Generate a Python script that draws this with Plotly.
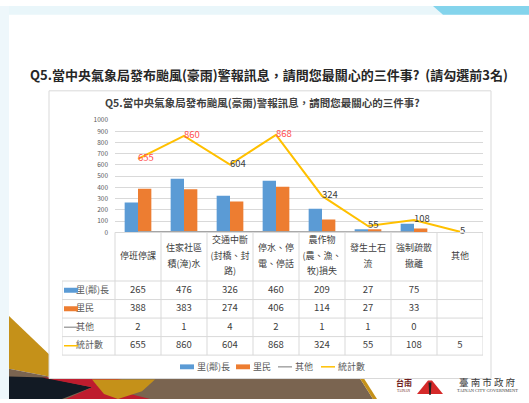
import plotly.graph_objects as go

W, H = 529, 403
FONT = "Noto Sans CJK TC"

# ---------------- data ----------------
categories = ["停班停課", "住家社區積(淹)水", "交通中斷(封橋、封路)", "停水、停電、停話",
              "農作物(農、漁、牧)損失", "發生土石流", "強制疏散撤離", "其他"]
header_lines = [["停班停課"], ["住家社區", "積(淹)水"], ["交通中斷", "(封橋、封", "路)"],
                ["停水、停", "電、停話"], ["農作物", "(農、漁、", "牧)損失"],
                ["發生土石", "流"], ["強制疏散", "撤離"], ["其他"]]
series_names = ["里(鄰)長", "里民", "其他", "統計數"]
leader_values = [265, 476, 326, 460, 209, 27, 75, None]
resident_values = [388, 383, 274, 406, 114, 27, 33, None]
other_values = [2, 1, 4, 2, 1, 1, 0, None]
total_values = [655, 860, 604, 868, 324, 55, 108, 5]
y_ticks = [0, 100, 200, 300, 400, 500, 600, 700, 800, 900, 1000]

main_title = "Q5.當中央氣象局發布颱風(豪雨)警報訊息，請問您最關心的三件事?\u00a0\u00a0(請勾選前3名)"
chart_title = "Q5.當中央氣象局發布颱風(豪雨)警報訊息，請問您最關心的三件事?"

# ---------------- styles ----------------
BLUE, ORANGE, GRAY, GOLD = "#5B9BD5", "#ED7D31", "#A5A5A5", "#FFC000"
series_colors = [BLUE, ORANGE, GRAY, GOLD]
series_kind = ["bar", "bar", "line", "line"]
TXT = "#404040"
GRID = "#D9D9D9"
RED_LABEL = "#FF5050"

# layout in pixels
PLOT_L, PLOT_R, PLOT_T, PLOT_B = 115, 483, 117, 232
TABLE_L = 62
HEADER_H, ROW_H, LINE_GAP = 50, 19, 16
N = len(categories)
COL_W = (PLOT_R - PLOT_L) / N
LBL_U = (PLOT_L - TABLE_L) / COL_W          # label column width in category units
X2_MIN = -0.5 - LBL_U
TABLE_H = HEADER_H + ROW_H * len(series_names)


def fx(px):
    return px / W


def fy(py):
    return 1 - py / H


def ux(px):  # pixel x -> x2 units
    return X2_MIN + (px - TABLE_L) / COL_W


fig = go.Figure()

# ---------------- chart traces ----------------
all_values = [leader_values, resident_values, other_values, total_values]
for name, vals, col, kind in zip(series_names, all_values, series_colors, series_kind):
    if kind == "bar":
        fig.add_trace(go.Bar(x=categories, y=vals, name=name, marker_color=col,
                             marker_line_width=0, xaxis="x", yaxis="y", hoverinfo="skip"))

top3 = sorted(total_values, reverse=True)[:3]
fig.add_trace(go.Scatter(x=categories, y=other_values, mode="lines", name=series_names[2],
                         line=dict(color=GRAY, width=2), xaxis="x", yaxis="y", hoverinfo="skip"))
fig.add_trace(go.Scatter(x=categories, y=total_values, mode="lines+text", name=series_names[3],
                         line=dict(color=GOLD, width=2),
                         text=[str(v) for v in total_values], textposition="middle right",
                         textfont=dict(size=9.5, family=FONT,
                                       color=[RED_LABEL if v in top3 else TXT for v in total_values]),
                         cliponaxis=False, xaxis="x", yaxis="y", hoverinfo="skip"))

# ---------------- data table ----------------
idx = list(range(N))
hx, hy, ht = [], [], []
for i, lines in zip(idx, header_lines):
    n = len(lines)
    for j, line in enumerate(lines):
        hx.append(i)
        hy.append(HEADER_H / 2 + (j - (n - 1) / 2) * LINE_GAP)
        ht.append(line)
fig.add_trace(go.Scatter(x=hx, y=hy, text=ht, mode="text", textposition="middle center",
                         textfont=dict(size=9, color=TXT, family=FONT), cliponaxis=False,
                         xaxis="x2", yaxis="y2", hoverinfo="skip", showlegend=False))

for r, vals in enumerate(all_values):
    cy = HEADER_H + ROW_H * (r + 0.5)
    fig.add_trace(go.Scatter(x=idx, y=[cy] * N, text=["" if v is None else str(v) for v in vals],
                             mode="text", textposition="middle center",
                             textfont=dict(size=9.5, color=TXT, family=FONT), cliponaxis=False,
                             xaxis="x2", yaxis="y2", hoverinfo="skip", showlegend=False))
fig.add_trace(go.Scatter(x=[ux(76)] * len(series_names),
                         y=[HEADER_H + ROW_H * (r + 0.5) for r in range(len(series_names))],
                         text=series_names, mode="text", textposition="middle right",
                         textfont=dict(size=9, color="#595959", family=FONT), cliponaxis=False,
                         xaxis="x2", yaxis="y2", hoverinfo="skip", showlegend=False))

shapes = []
# ---------------- slide decoration ----------------
def poly(pts, color):
    d = "M " + " L ".join(f"{fx(x):.5f},{fy(y):.5f}" for x, y in pts) + " Z"
    return dict(type="path", xref="paper", yref="paper", path=d, fillcolor=color,
                line=dict(width=0), layer="below")

shapes.append(poly([(0, 0), (W, 0), (W, 9), (0, 9)], "#E9F6FA"))
shapes.append(poly([(0, 0), (9, 0), (9, H), (0, H)], "#EEF7FB"))
shapes.append(poly([(433, 0), (W, 0), (W, 9), (443, 9)], "#84D4EC"))
shapes.append(poly([(9, 318), (49, 357), (49, 380), (9, 372)], "#C59119"))
shapes.append(poly([(9, 372), (49, 380), (49, 383), (9, 383)], "#7A6450"))
shapes.append(poly([(9, 382), (360, 382), (373, 403), (9, 403)], "#7A6450"))
shapes.append(poly([(360, 382), (364, 382), (377, 403), (373, 403)], "#C59119"))
shapes.append(poly([(9, 380), (45, 381), (92, 391), (62, 403), (9, 403)], "#121A24"))
shapes.append(poly([(42, 381), (128, 381), (96, 389), (150, 403), (66, 403), (92, 391)], "#BE1C2E"))
shapes.append(poly([(92, 383), (155, 383), (142, 395), (118, 403), (104, 398)], "#C59119"))
# chart box
shapes.append(dict(type="rect", xref="paper", yref="paper", x0=fx(49), x1=fx(491),
                   y0=fy(382), y1=fy(87), fillcolor="white", line=dict(color=GRID, width=1),
                   layer="below"))
# logo emblem
shapes.append(poly([(417, 398), (428, 384), (432, 384), (443, 398)], "#D52A2A"))
shapes.append(poly([(428.5, 386), (431.5, 386), (430.7, 399), (429.3, 399)], "#222222"))

# ---------------- table borders ----------------
def tline(x0, y0, x1, y1):
    return dict(type="line", xref="x2", yref="y2", x0=x0, y0=y0, x1=x1, y1=y1,
                line=dict(color=GRID, width=1))

for i in range(N + 1):
    shapes.append(tline(i - 0.5, 0, i - 0.5, TABLE_H))
shapes.append(tline(X2_MIN, HEADER_H, X2_MIN, TABLE_H))
for k in range(len(series_names) + 1):
    yk = HEADER_H + ROW_H * k
    shapes.append(tline(X2_MIN, yk, N - 0.5, yk))

# legend keys inside the table
for r, (col, kind) in enumerate(zip(series_colors, series_kind)):
    cy = HEADER_H + ROW_H * (r + 0.5)
    if kind == "bar":
        shapes.append(dict(type="rect", xref="x2", yref="y2", x0=ux(64), x1=ux(78),
                           y0=cy - 2.5, y1=cy + 2.5, fillcolor=col, line=dict(width=0)))
    else:
        shapes.append(dict(type="line", xref="x2", yref="y2", x0=ux(64), x1=ux(78),
                           y0=cy, y1=cy, line=dict(color=col, width=1.5)))

# ---------------- bottom legend ----------------
LEG_Y = 370
LEG_X = [180, 236, 278, 321]
annotations = []
for name, col, kind, lx in zip(series_names, series_colors, series_kind, LEG_X):
    if kind == "bar":
        shapes.append(dict(type="rect", xref="paper", yref="paper", x0=fx(lx), x1=fx(lx + 14),
                           y0=fy(LEG_Y + 2.5), y1=fy(LEG_Y - 2.5), fillcolor=col,
                           line=dict(width=0)))
    else:
        shapes.append(dict(type="line", xref="paper", yref="paper", x0=fx(lx), x1=fx(lx + 14),
                           y0=fy(LEG_Y), y1=fy(LEG_Y), line=dict(color=col, width=1.5)))
    annotations.append(dict(xref="paper", yref="paper", x=fx(lx + 15), y=fy(LEG_Y),
                            xanchor="left", yanchor="middle", text=name, showarrow=False,
                            font=dict(size=9, color="#595959", family=FONT)))

# ---------------- titles and logo text ----------------
annotations.append(dict(xref="paper", yref="paper", x=fx(269), y=fy(70), xanchor="center",
                        yanchor="middle", text=f"<b>{main_title}</b>", showarrow=False,
                        font=dict(size=13, color="#262626", family=FONT)))
annotations.append(dict(xref="paper", yref="paper", x=fx(262), y=fy(99), xanchor="center",
                        yanchor="middle", text=f"<b>{chart_title}</b>", showarrow=False,
                        font=dict(size=10.5, color=TXT, family=FONT)))
annotations.append(dict(xref="paper", yref="paper", x=fx(404), y=fy(386.5), xanchor="center",
                        yanchor="middle", text="<b>台南</b>", showarrow=False,
                        font=dict(size=8, color="#6E1B1B", family=FONT)))
annotations.append(dict(xref="paper", yref="paper", x=fx(404), y=fy(394.5), xanchor="center",
                        yanchor="middle", text="TAINAN", showarrow=False,
                        font=dict(size=3.5, color="#6E1B1B", family="Liberation Serif")))
annotations.append(dict(xref="paper", yref="paper", x=fx(487), y=fy(386), xanchor="center",
                        yanchor="middle", text="臺 南 市 政 府", showarrow=False,
                        font=dict(size=9.5, color="#3A3A3A", family="Noto Sans CJK TC")))
annotations.append(dict(xref="paper", yref="paper", x=fx(487), y=fy(394), xanchor="center",
                        yanchor="middle", text="TAINAN CITY GOVERNMENT", showarrow=False,
                        font=dict(size=4.5, color="#3A3A3A", family="Liberation Serif")))

fig.update_layout(
    width=W, height=H, autosize=False,
    margin=dict(l=0, r=0, t=0, b=0, pad=0),
    paper_bgcolor="white", plot_bgcolor="rgba(0,0,0,0)",
    showlegend=False,
    barmode="group", bargap=0.42, bargroupgap=0,
    font=dict(family=FONT, color=TXT),
    xaxis=dict(domain=[fx(PLOT_L), fx(PLOT_R)], anchor="y", type="category",
               categoryarray=categories, categoryorder="array", range=[-0.5, N - 0.5],
               showticklabels=False, showgrid=False, zeroline=False, showline=True,
               linecolor=GRID, linewidth=1, ticks="", fixedrange=True),
    yaxis=dict(domain=[fy(PLOT_B), fy(PLOT_T)], anchor="x", range=[0, 1000],
               tickvals=y_ticks, ticktext=[str(v) for v in y_ticks], showgrid=True,
               gridcolor=GRID, gridwidth=1, zeroline=False, showline=False, ticks="",
               ticklabelstandoff=6, tickfont=dict(size=6.5, color="#595959", family=FONT),
               fixedrange=True),
    xaxis2=dict(domain=[fx(TABLE_L), fx(PLOT_R)], anchor="y2", range=[X2_MIN, N - 0.5],
                visible=False, fixedrange=True),
    yaxis2=dict(domain=[fy(382), fy(PLOT_B)], anchor="x2", range=[382 - PLOT_B, 0],
                visible=False, fixedrange=True),
    shapes=shapes,
    annotations=annotations,
)

fig.write_html("out.html", config={"displayModeBar": False})
